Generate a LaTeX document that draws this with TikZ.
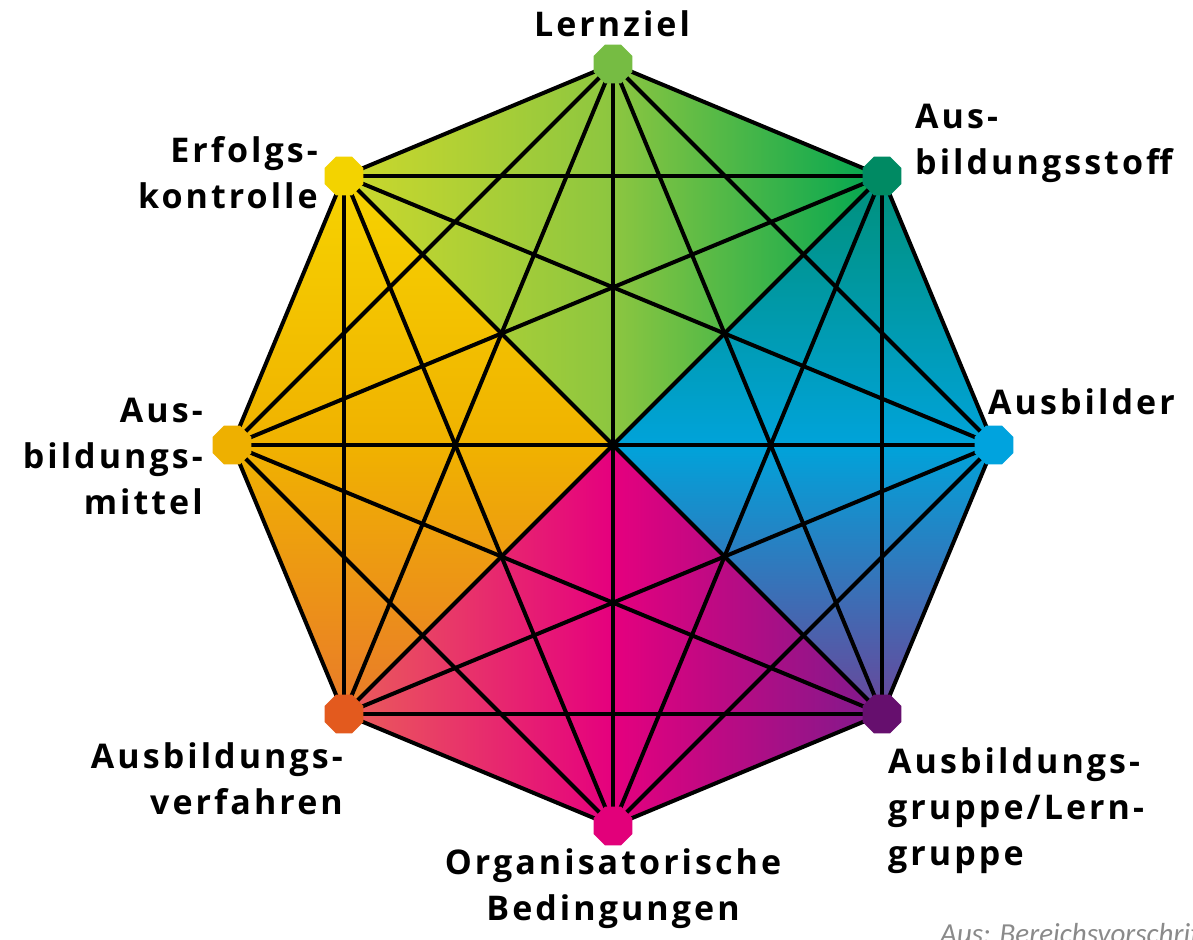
\documentclass[tikz,border=0pt]{standalone}
\usepackage{fontspec}
\setmainfont{Open Sans}
\newfontfamily\labelfont[LetterSpace=9]{Open Sans}
\newfontfamily\notefont{Carlito}
\usetikzlibrary{shapes.geometric,backgrounds}

% vertex colours
\definecolor{cLern}{HTML}{76BC43}
\definecolor{cStoff}{HTML}{008A63}
\definecolor{cAusb}{HTML}{00A3DE}
\definecolor{cGrup}{HTML}{660F6E}
\definecolor{cOrg}{HTML}{E2007A}
\definecolor{cVerf}{HTML}{E35A1E}
\definecolor{cMitt}{HTML}{EEB000}
\definecolor{cErf}{HTML}{F3D300}
% area gradient colours
\definecolor{gYG}{HTML}{CCD82C}
\definecolor{gG}{HTML}{8CC640}
\definecolor{gDG}{HTML}{00A651}
\definecolor{gY}{HTML}{F6D300}
\definecolor{gO}{HTML}{F0B200}
\definecolor{gOR}{HTML}{E97A2A}
\definecolor{gS}{HTML}{EA5D5A}
\definecolor{gM}{HTML}{E5007E}
\definecolor{gP}{HTML}{7E1A8C}
\definecolor{gT}{HTML}{00907A}
\definecolor{gB}{HTML}{00A3DA}
\definecolor{gV}{HTML}{6B4599}
\definecolor{noteGray}{HTML}{8A8A8A}

\tikzset{
  vdot/.style={regular polygon, regular polygon sides=8, minimum size=42pt,
    inner sep=0pt, draw=none},
  edge/.style={line width=4pt, black},
  lbl/.style={inner sep=0pt, font=\labelfont\bfseries\fontsize{34}{46}\selectfont}
}

\begin{document}
\begin{tikzpicture}[x=1pt,y=-1pt]
\useasboundingbox (0,0) rectangle (1193,939);
\clip (0,0) rectangle (1193,939);

% the eight corners of the octagon
\node[vdot, fill=cLern]  (lz) at (613,64)  {};
\node[vdot, fill=cStoff] (st) at (882,176) {};
\node[vdot, fill=cAusb]  (ab) at (994,445) {};
\node[vdot, fill=cGrup]  (gr) at (882,714) {};
\node[vdot, fill=cOrg]   (og) at (613,826) {};
\node[vdot, fill=cVerf]  (vf) at (344,714) {};
\node[vdot, fill=cMitt]  (mi) at (232,445) {};
\node[vdot, fill=cErf]   (ek) at (344,176) {};
\coordinate (ctr) at (613,445);

\begin{scope}[on background layer]
  \fill[white] (0,0) rectangle (1193,939);
  % four coloured areas around the centre (middle colour set last)
  \shade[left color=gYG, right color=gDG, middle color=gG]
    (ctr) -- (ek.center) -- (lz.center) -- (st.center) -- cycle;
  \shade[top color=gY, bottom color=gOR, middle color=gO]
    (ctr) -- (ek.center) -- (mi.center) -- (vf.center) -- cycle;
  \shade[left color=gS, right color=gP, middle color=gM]
    (ctr) -- (vf.center) -- (og.center) -- (gr.center) -- cycle;
  \shade[top color=gT, bottom color=gV, middle color=gB]
    (ctr) -- (st.center) -- (ab.center) -- (gr.center) -- cycle;
  % every corner joined to every other corner
  \foreach \a/\b in {lz/st,lz/ab,lz/gr,lz/og,lz/vf,lz/mi,lz/ek,
                     st/ab,st/gr,st/og,st/vf,st/mi,st/ek,
                     ab/gr,ab/og,ab/vf,ab/mi,ab/ek,
                     gr/og,gr/vf,gr/mi,gr/ek,
                     og/vf,og/mi,og/ek,
                     vf/mi,vf/ek,
                     mi/ek}
    \draw[edge] (\a.center) -- (\b.center);
\end{scope}

% labels
\node[lbl, anchor=north] (tLern) at (612,10) {Lernziel};
\node[lbl, anchor=north east, align=right] (tErf) at (318,136) {Erfolgs-\\kontrolle};
\node[lbl, anchor=north east, align=right] (tMitt) at (203,398) {Aus-\\bildungs-\\mittel};
\node[lbl, anchor=north west, align=left] (tStoff) at (915,104) {Aus-\\bildungsstoff};
\node[lbl, anchor=north west, align=left] (tAusb) at (988,388) {Ausbilder};
\node[lbl, anchor=north east, align=right] (tVerf) at (343,742) {Ausbildungs-\\verfahren};
\node[lbl, anchor=north, align=center] (tOrg) at (613,848) {Organisatorische\\Bedingungen};
\node[lbl, anchor=north west, align=left] (tGrup) at (888,747) {Ausbildungs-\\gruppe/Lern-\\gruppe};

% source note, running off the page edge
\node[anchor=base west, inner sep=0pt, text=noteGray,
      font=\notefont\itshape\fontsize{29}{34}\selectfont] (src) at (940,943)
  {Aus: Bereichsvorschrift};
\end{tikzpicture}
\end{document}
